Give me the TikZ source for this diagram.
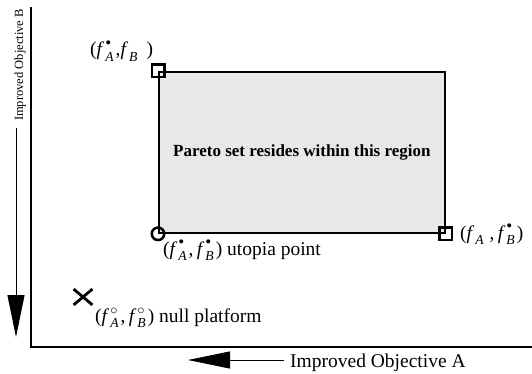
\documentclass[tikz,border=0pt]{standalone}
\usepackage{fontspec}
\usepackage{amsmath}
\setmainfont{Liberation Serif}
\usetikzlibrary{arrows.meta,shapes.misc}
\newcommand\fv[2]{\textit{f}\kern1pt\ensuremath{_{\text{\itshape #1}}^{\text{#2}}}\kern1.5pt}
\newcommand\bigdot{{\fontsize{17}{17}\selectfont •}}
\begin{document}
\begin{tikzpicture}[x=1pt,y=-1pt,
  axis/.style={line width=2pt},
  region/.style={fill=black!9, draw=black, line width=1.8pt, inner sep=0pt},
  corner/.style={draw, line width=2.5pt, minimum size=12.5pt, inner sep=0pt},
  utop/.style={draw, circle, line width=2.5pt, minimum size=12.5pt, inner sep=0pt},
  xmark/.style={draw, cross out, line width=2.8pt, minimum width=16pt, minimum height=13pt, inner sep=0pt},
  lab/.style={font=\fontsize{19.5}{22}\selectfont, inner sep=0pt},
  axlab/.style={font=\fontsize{19.5}{22}\selectfont, inner sep=0pt},
  vlab/.style={font=\fontsize{12.5}{14}\selectfont, inner sep=0pt},
  bigarrow/.style={line width=1pt, -{Triangle[length=42pt,width=17pt]}}
]
\useasboundingbox (0,0) rectangle (532,374);
% region
\node[region, minimum width=286pt, minimum height=161pt, anchor=north west] (reg) at (158,71) {};
\node[font=\bfseries\fontsize{17}{19}\selectfont] (pareto) at (reg.center) {Pareto set resides within this region};
% corner markers
\node[corner] (tl) at (reg.north west) {};
\node[utop] (up) at (reg.south west) {};
\node[corner] (br) at (reg.south east) {};
\node[xmark] (nul) at (83,297) {};
% labels
\node[lab, anchor=base west] (tllab) at (90,56) {(\fv{A}{\bigdot},\fv{B}{}\kern7pt)};
\node[lab, anchor=base west] (uplab) at (163,255) {(\fv{A}{\bigdot},\,\fv{B}{\bigdot}) utopia point};
\node[lab, anchor=base west] (brlab) at (460,239) {(\fv{A}{}\kern4pt,\,\fv{B}{\bigdot})};
\node[lab, anchor=base west] (nullab) at (95,322) {(\fv{A}{$\circ$},\,\fv{B}{$\circ$}) null platform};
% axes
\coordinate (ytop) at (31,7);
\coordinate (xright) at (532,347);
\draw[axis] (ytop) |- (xright);
% axis labels and arrows
\node[vlab, rotate=90, anchor=east] (ylab) at (20,9) {Improved Objective B};
\coordinate (yend) at (16,337);
\draw[bigarrow] (16,128) -- (yend);
\node[axlab, anchor=base west] (xlab) at (290,367) {Improved Objective A};
\coordinate (xend) at (188,360);
\draw[bigarrow] (284,360) -- (xend);
\end{tikzpicture}
\end{document}
